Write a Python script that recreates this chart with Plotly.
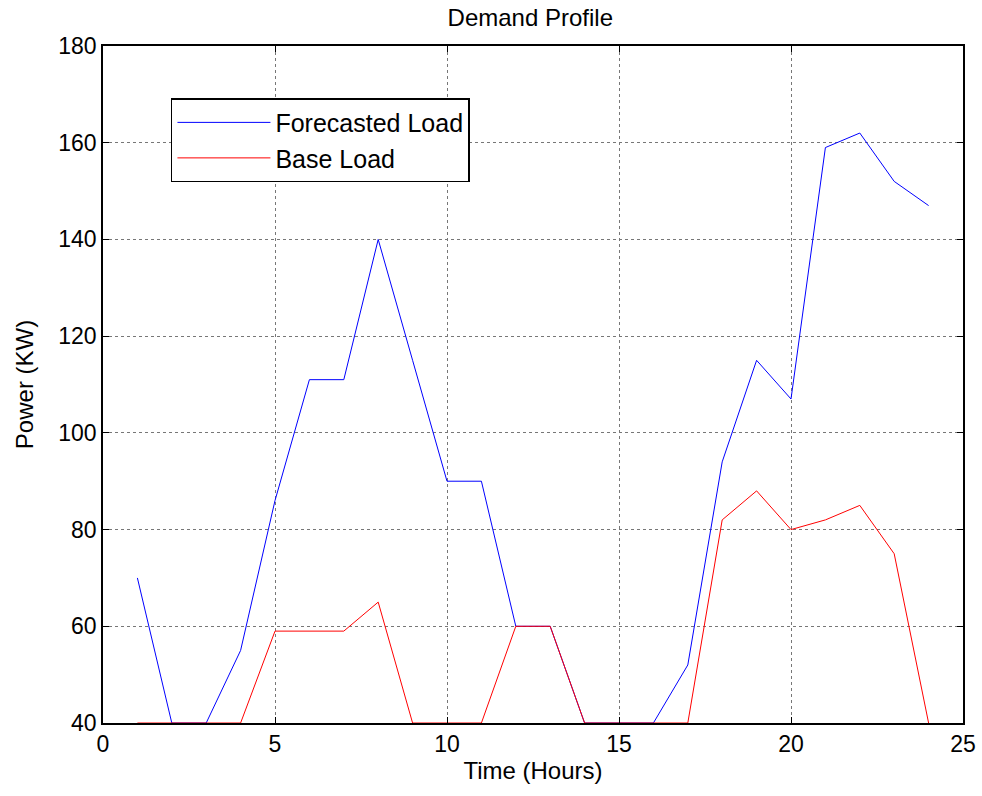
import plotly.graph_objects as go

hours = list(range(1, 25))
forecasted_load = [70, 40, 40, 55, 86, 111, 111, 140, 115, 90, 90, 60,
                   60, 40, 40, 40, 52, 94, 115, 107, 159, 162, 152, 147]
base_load = [40, 40, 40, 40, 59, 59, 59, 65, 40, 40, 40, 60,
             60, 40, 40, 40, 40, 82, 88, 80, 82, 85, 75, 40]

x_ticks = [0, 5, 10, 15, 20, 25]
y_ticks = [40, 60, 80, 100, 120, 140, 160, 180]

fig = go.Figure()
fig.add_trace(go.Scatter(x=hours, y=forecasted_load, mode="lines", name="Forecasted Load",
                         line=dict(color="#0000ff", width=1)))
fig.add_trace(go.Scatter(x=hours, y=base_load, mode="lines", name="Base Load",
                         line=dict(color="#ff0000", width=1)))

axis_common = dict(showline=True, linecolor="black", linewidth=1.5, mirror="ticks",
                   ticks="inside", ticklen=6, tickcolor="black",
                   showgrid=True, gridcolor="#777777", griddash="dot", gridwidth=1,
                   zeroline=False, automargin=False,
                   tickfont=dict(size=23, color="black"))

fig.update_xaxes(range=[0, 25], tickvals=x_ticks,
                 title=dict(text="Time (Hours)", font=dict(size=24, color="black"), standoff=6),
                 **axis_common)
fig.update_yaxes(range=[40, 180], tickvals=y_ticks,
                 title=dict(text="Power (KW)", font=dict(size=24, color="black"), standoff=18),
                 **axis_common)

fig.update_layout(
    width=982, height=796,
    margin=dict(l=103, r=19, t=46, b=73),
    paper_bgcolor="white", plot_bgcolor="white",
    font=dict(family="Liberation Sans, Arial, sans-serif", color="black"),
    title=dict(text="Demand Profile", x=0.54, xanchor="center", y=0.978, yanchor="middle",
               font=dict(size=24, color="black")),
    legend=dict(x=0.079, y=0.923, xanchor="left", yanchor="top",
                bordercolor="black", borderwidth=1.5, bgcolor="white",
                font=dict(size=25, color="black"), itemwidth=93, tracegroupgap=0),
    showlegend=True,
)

fig.write_html("out.html")
